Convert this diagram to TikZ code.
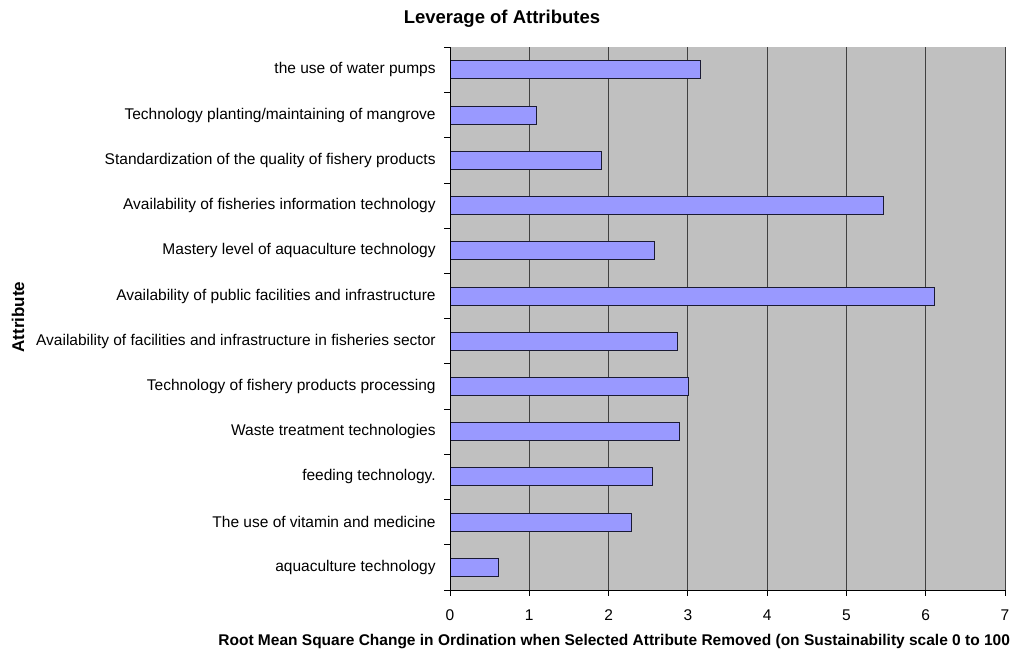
\documentclass[tikz,border=0pt]{standalone}
\usepackage{fontspec}
\setmainfont{Liberation Sans}
\usetikzlibrary{positioning}

\definecolor{plotgray}{HTML}{C0C0C0}
\definecolor{barfill}{HTML}{9999FF}
\definecolor{barline}{HTML}{1A1A33}

\begin{document}
\begin{tikzpicture}[x=1pt,y=-1pt,font=\fontsize{15.5}{18}\selectfont,line width=0.8pt]

	\tikzset{bar st/.style={draw=barline, fill=barfill, line width=1pt},
		lab st/.style={anchor=east, inner sep=0pt},
		grid st/.style={draw=black!75, line width=1pt},
		tick st/.style={draw=black, line width=0.8pt},
		num st/.style={inner sep=0pt},
		axtitle st/.style={font=\fontsize{15.5}{18}\selectfont\bfseries, inner sep=0pt}}

	\useasboundingbox (0,0) rectangle (1014,655);

	% plot area and grid
	\fill[plotgray] (450,47.3) rectangle (1005,590);
	\foreach \n in {1,...,7}
		\draw[grid st] (450+\n*79.29,47.3) -- (450+\n*79.29,590);

	% bars and attribute labels
	\foreach \v/\t [count=\i] in {3.165/{the use of water pumps},
			1.093/{Technology planting/maintaining of mangrove},
			1.911/{Standardization of the quality of fishery products},
			5.461/{Availability of fisheries information technology},
			2.575/{Mastery level of aquaculture technology},
			6.104/{Availability of public facilities and infrastructure},
			2.869/{Availability of facilities and infrastructure in fisheries sector},
			3.008/{Technology of fishery products processing},
			2.890/{Waste treatment technologies},
			2.550/{feeding technology.},
			2.285/{The use of vitamin and medicine},
			0.606/{aquaculture technology}}{
		\pgfmathsetmacro{\yc}{47.3+45.22*(\i-0.5)}
		\node[lab st] (lab\i) at (436,\yc) {\t};
		\draw[bar st] (450,\yc-9) rectangle (450+\v*79.29,\yc+9);
	}

	% axes and ticks
	\draw[tick st] (450,47.3) -- (450,590) -- (1005,590);
	\foreach \k in {0,...,12}
		\draw[tick st] (444,47.3+\k*45.22) -- (450,47.3+\k*45.22);
	\foreach \n in {0,...,7}{
		\draw[tick st] (450+\n*79.29,590) -- (450+\n*79.29,596);
		\node[num st] (num\n) at (450+\n*79.29,615) {\n};
	}

	% titles
	\node[axtitle st, font=\fontsize{18.5}{21}\selectfont\bfseries] (title) at (502,19) {Leverage of Attributes};
	\node[axtitle st, font=\fontsize{17}{20}\selectfont\bfseries, rotate=90] (ytitle) at (18,317) {Attribute};
	\node[axtitle st, anchor=west] (xtitle) at (218,642) {Root Mean Square Change in Ordination when Selected Attribute Removed (on Sustainability scale 0 to 100};

\end{tikzpicture}
\end{document}
